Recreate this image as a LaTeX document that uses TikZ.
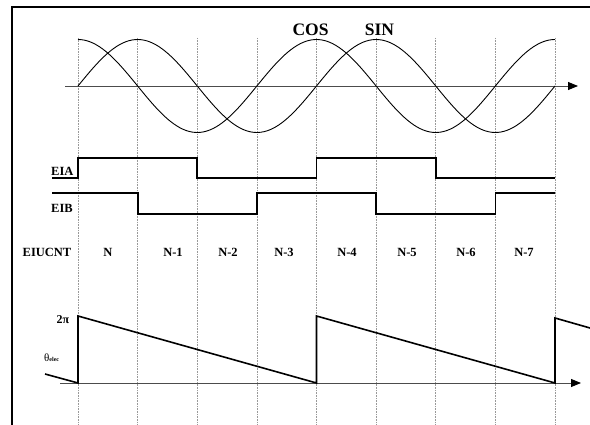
\documentclass[tikz,border=0pt]{standalone}
\usepackage{fontspec}
\setmainfont{Liberation Serif}
\usetikzlibrary{arrows.meta}
\begin{document}
\begin{tikzpicture}[x=1pt,y=-1pt,
  grid/.style={gray!80,line width=0.6pt,dash pattern=on 0.8pt off 0.8pt},
  wave/.style={black,line width=0.9pt},
  sig/.style={black,line width=1.8pt},
  axis/.style={black!70,line width=0.9pt,-{Triangle[length=10pt,width=8pt,fill=black,color=black]}},
  lbl/.style={font=\bfseries\fontsize{12.5}{13}\selectfont,inner sep=0pt},
  big/.style={font=\bfseries\fontsize{17.5}{18}\selectfont,inner sep=0pt}]
\useasboundingbox (0,0) rectangle (590,425);
% frame
\draw[line width=2.2pt] (12,425) -- (12,7) -- (590,7);
% grid
\foreach \i in {0,...,8}{
  \draw[grid] ({78+\i*59.625},38) -- ({78+\i*59.625},425);
}
% sine axis
\coordinate (sa0) at (65,86);
\coordinate (sa1) at (578,86);
\draw[axis] (sa0) -- (sa1);
% curves
\draw[wave,domain=78:555,samples=160,smooth] plot ({\x},{86-46.5*sin((\x-78)/238.5*360)});
\draw[wave,domain=78:555,samples=160,smooth] plot ({\x},{86-46.5*cos((\x-78)/238.5*360)});
\node[big] (cos) at (310.5,30) {COS};
\node[big] (sin) at (379.5,30) {SIN};
% EIA
\draw[sig] (52,178) -- (78,178) -- (78,158) -- (197.25,158) -- (197.25,178) -- (316.5,178) -- (316.5,158) -- (435.75,158) -- (435.75,178) -- (555,178);
\node[lbl,anchor=south west] (eia) at (51,176) {EIA};
% EIB
\draw[sig] (52,193) -- (137.6,193) -- (137.6,214) -- (256.9,214) -- (256.9,193) -- (376.1,193) -- (376.1,214) -- (495.4,214) -- (495.4,193) -- (555,193);
\node[lbl,anchor=south west] (eib) at (51,213) {EIB};
% EIUCNT row
\node[lbl] (cnt) at (47,252) {EIUCNT};
\node[lbl] (n0) at (108,252) {N};
\node[lbl] (n1) at (173,252) {N-1};
\node[lbl] (n2) at (228,252) {N-2};
\node[lbl] (n3) at (284,252) {N-3};
\node[lbl] (n4) at (347,252) {N-4};
\node[lbl] (n5) at (407,252) {N-5};
\node[lbl] (n6) at (466,252) {N-6};
\node[lbl] (n7) at (524,252) {N-7};
% theta axis
\coordinate (ta0) at (60,383);
\coordinate (ta1) at (581,383);
\draw[axis] (ta0) -- (ta1);
\draw[sig,line width=1.6pt] (45,374) -- (78,383) -- (78,316) -- (316.5,383) -- (316.5,316) -- (555,383) -- (555,318) -- (590,328);
\node[inner sep=0pt,font=\bfseries\fontsize{12}{13}\selectfont] (tp) at (63,320) {2π};
\node[inner sep=0pt,anchor=west] (th) at (44,358) {\fontsize{11}{12}\selectfont θ\fontsize{6}{7}\selectfont\bfseries elec};
\end{tikzpicture}
\end{document}
